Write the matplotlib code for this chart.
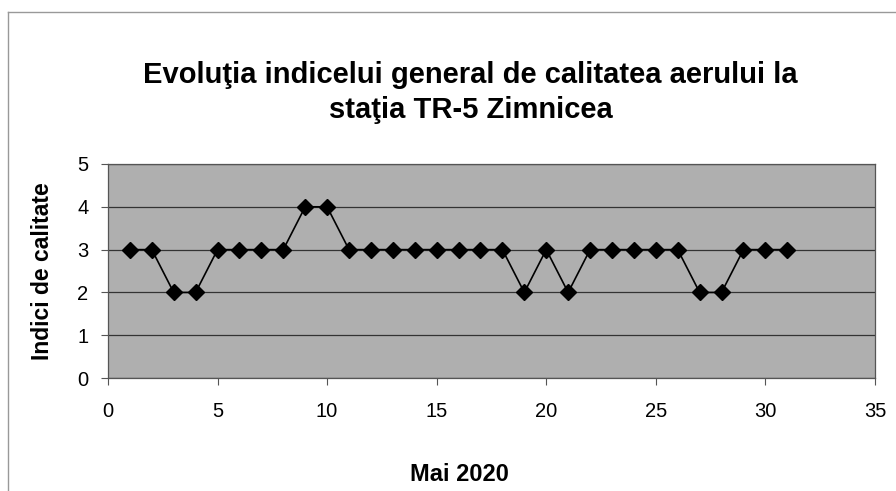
import matplotlib.pyplot as plt
from matplotlib.lines import Line2D

# Data: daily air quality index, May 2020
days = list(range(1, 32))
indices = [3, 3, 2, 2, 3, 3, 3, 3, 4, 4, 3, 3, 3, 3, 3, 3, 3, 3, 2, 3,
           2, 3, 3, 3, 3, 3, 2, 2, 3, 3, 3]

title = "Evoluţia indicelui general de calitatea aerului la\nstaţia TR-5 Zimnicea"
xlabel = "Mai 2020"
ylabel = "Indici de calitate"

plt.rcParams['font.family'] = ['Liberation Sans', 'DejaVu Sans']

fig = plt.figure(figsize=(8.96, 4.91), dpi=100)
ax = fig.add_axes([0.1205, 0.230, 0.856, 0.436])

ax.set_facecolor('#afafaf')
ax.plot(days, indices, color='black', linewidth=1.2, marker='D', markersize=8,
        markerfacecolor='black', markeredgecolor='black', zorder=3)

ax.set_xlim(0, 35)
ax.set_ylim(0, 5)
ax.set_xticks(range(0, 36, 5))
ax.set_yticks(range(0, 6))
ax.yaxis.grid(True, color='#333333', linewidth=0.9)
ax.set_axisbelow(True)
for side in ['top', 'right', 'left', 'bottom']:
    ax.spines[side].set_color('#555555')
    ax.spines[side].set_linewidth(0.9)

ax.tick_params(axis='both', labelsize=14.5, length=5, color='#555555', direction='out')
ax.tick_params(axis='x', pad=12)
ax.tick_params(axis='y', pad=9)

ax.set_ylabel(ylabel, fontsize=16.5, fontweight='bold', labelpad=17)
fig.text(0.513, 0.034, xlabel, ha='center', va='center', fontsize=17, fontweight='bold')
fig.text(0.525, 0.812, title, ha='center', va='center', fontsize=21, fontweight='bold',
         linespacing=1.3)

# outer chart frame (top and left edges visible)
fig.add_artist(Line2D([0.009, 1.0], [0.976, 0.976], color='#999999', linewidth=1.0))
fig.add_artist(Line2D([0.009, 0.009], [0.0, 0.976], color='#999999', linewidth=1.0))

fig.savefig('out.png', dpi=100)
